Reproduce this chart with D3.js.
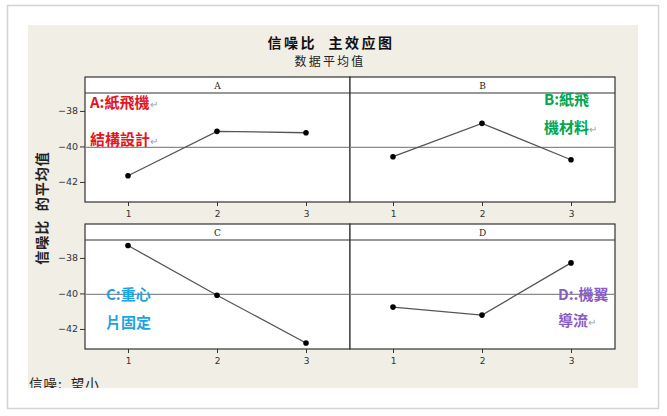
<!DOCTYPE html>
<html>
<head>
<meta charset="utf-8">
<script src="https://cdn.jsdelivr.net/npm/d3@7/dist/d3.min.js"></script>
<style>
    body { margin: 0; background: #ffffff; }
    svg { display: block; }
</style>
</head>
<body>
<div id="chart"></div>
<script>
/*
    信噪比 主效应图 (Minitab 风格) 重绘
 */

var factor_names = ["A", "B", "C", "D"];
var levels = [1, 2, 3];
var means_A = [-41.65, -39.15, -39.23];
var means_B = [-40.58, -38.70, -40.75];
var means_C = [-37.30, -40.10, -42.79];
var means_D = [-40.77, -41.22, -38.28];
var grand_mean = -40.05;
var y_ticks = [-42, -40, -38];

var note_A = ["A:紙飛機", "結構設計"];
var note_B = ["B:紙飛", "機材料"];
var note_C = ["C:重心", "片固定"];
var note_D = ["D:.機翼", "導流"];

var svg_size = {
    'width': 667,
    'height': 416
};

var chart_option = {
    'panel': {
        'left': 85,
        'top': 77,
        'width': 265,
        'strip': 16,
        'plot': 109,
        'row_gap': 147
    },
    'font': '"Noto Sans CJK SC", "Noto Sans", sans-serif'
};

var panels = [
    {name: factor_names[0], means: means_A, col: 0, row: 0, note: note_A, color: '#e3151d', ret: [true, true], nx: 5, ny: [13, 50]},
    {name: factor_names[1], means: means_B, col: 1, row: 0, note: note_B, color: '#00a651', ret: [false, true], nx: 194, ny: [10, 38]},
    {name: factor_names[2], means: means_C, col: 0, row: 1, note: note_C, color: '#1ea3e2', ret: [false, false], nx: 21, ny: [58, 86]},
    {name: factor_names[3], means: means_D, col: 1, row: 1, note: note_D, color: '#8a5cc6', ret: [false, true], nx: 208, ny: [58, 84]}
];

var svg = d3.select("#chart")
    .append("svg")
    .attr('width', svg_size.width)
    .attr('height', svg_size.height);

// frame
svg.append('rect')
    .attr('x', 7.5).attr('y', 5.5)
    .attr('width', 651).attr('height', 403)
    .style('fill', '#ffffff')
    .style('stroke', '#d4d4d4')
    .style('stroke-width', 1.5);

svg.append('rect')
    .attr('x', 28).attr('y', 25)
    .attr('width', 610).attr('height', 363)
    .style('fill', '#f1eee6');

// title
svg.append('text')
    .attr('x', 331).attr('y', 48)
    .attr('text-anchor', 'middle')
    .style('font-family', chart_option.font)
    .style('font-size', '14px')
    .style('font-weight', 'bold')
    .style('letter-spacing', '2.5px')
    .style('fill', '#111')
    .text("信噪比\u00a0\u00a0主效应图");

svg.append('text')
    .attr('x', 330).attr('y', 66)
    .attr('text-anchor', 'middle')
    .style('font-family', chart_option.font)
    .style('font-size', '12px')
    .style('letter-spacing', '2.2px')
    .style('fill', '#222')
    .text("数据平均值");

// y label
svg.append('text')
    .attr('transform', 'translate(47,208) rotate(-90)')
    .attr('text-anchor', 'middle')
    .style('font-family', chart_option.font)
    .style('font-size', '14px')
    .style('font-weight', 'bold')
    .style('letter-spacing', '1px')
    .style('fill', '#222')
    .text("信噪比\u00a0\u00a0的平均值");

// footnote
svg.append('clipPath').attr('id', 'bg-clip')
    .append('rect').attr('x', 28).attr('y', 25).attr('width', 610).attr('height', 363);

svg.append('text')
    .attr('x', 29).attr('y', 389)
    .attr('clip-path', 'url(#bg-clip)')
    .style('font-family', chart_option.font)
    .style('font-size', '13.5px')
    .style('letter-spacing', '1px')
    .style('fill', '#222')
    .text("信噪:\u00a0\u00a0望小");

var x_scale = d3.scalePoint()
    .domain(levels)
    .range([43, 221]);

var y_scale = d3.scaleLinear()
    .domain([-43.13, -36.99])
    .range([chart_option.panel.plot, 0]);

var line = d3.line()
    .x(function(d, i){ return x_scale(levels[i]); })
    .y(function(d){ return y_scale(d); });

var panel_enter = svg.selectAll('.panel')
    .data(panels)
    .enter()
    .append('g')
    .classed('panel', true)
    .attr('transform', function(d){
        var x = chart_option.panel.left + d.col * chart_option.panel.width;
        var y = chart_option.panel.top + d.row * chart_option.panel.row_gap;
        return 'translate(' + x + ',' + y + ')';
    });

// strip
panel_enter.append('rect')
    .attr('x', 0).attr('y', 0)
    .attr('width', chart_option.panel.width)
    .attr('height', chart_option.panel.strip + chart_option.panel.plot)
    .style('fill', '#ffffff')
    .style('stroke', '#333')
    .style('stroke-width', 1.2);

panel_enter.append('line')
    .attr('x1', 0).attr('x2', chart_option.panel.width)
    .attr('y1', chart_option.panel.strip).attr('y2', chart_option.panel.strip)
    .style('stroke', '#333')
    .style('stroke-width', 1.2);

panel_enter.append('text')
    .attr('x', chart_option.panel.width / 2)
    .attr('y', chart_option.panel.strip / 2 + 1)
    .attr('text-anchor', 'middle')
    .attr('dominant-baseline', 'central')
    .style('font-family', '"DejaVu Serif", serif')
    .style('font-size', '9px')
    .style('fill', '#222')
    .text(function(d){ return d.name; });

var plot_group = panel_enter.append('g')
    .attr('transform', 'translate(0,' + chart_option.panel.strip + ')');

// x axis
plot_group.each(function(d){
    var g = d3.select(this);
    var x_axis = d3.axisBottom(x_scale).tickSize(4).tickPadding(5);
    var ax = g.append('g')
        .attr('transform', 'translate(0,' + chart_option.panel.plot + ')')
        .call(x_axis);
    ax.select('.domain').remove();
    ax.selectAll('line').style('stroke', '#333');
    ax.selectAll('text')
        .style('font-family', '"DejaVu Sans", sans-serif')
        .style('font-size', '9px')
        .style('fill', '#333');

    if (d.col == 0) {
        var y_axis = d3.axisLeft(y_scale).tickValues(y_ticks).tickSize(5).tickPadding(2)
            .tickFormat(function(v){ return '\u2212' + Math.abs(v); });
        var ay = g.append('g').call(y_axis);
        ay.select('.domain').remove();
        ay.selectAll('line').style('stroke', '#333');
        ay.selectAll('text')
            .style('font-family', '"DejaVu Sans", sans-serif')
            .style('font-size', '9.5px')
            .style('fill', '#333');
    }
});

// reference line
plot_group.append('line')
    .attr('x1', 0).attr('x2', chart_option.panel.width)
    .attr('y1', y_scale(grand_mean)).attr('y2', y_scale(grand_mean))
    .style('stroke', '#8a8a8a')
    .style('stroke-width', 1.3);

// mean line
plot_group.append('path')
    .attr('d', function(d){ return line(d.means); })
    .style('fill', 'none')
    .style('stroke', '#555')
    .style('stroke-width', 1.3);

plot_group.selectAll('.pt')
    .data(function(d){ return d.means; })
    .enter()
    .append('circle')
    .attr('cx', function(d, i){ return x_scale(levels[i]); })
    .attr('cy', function(d){ return y_scale(d); })
    .attr('r', 2.8)
    .style('fill', '#000');

// notes
panel_enter.each(function(d){
    var g = d3.select(this);
    d.note.forEach(function(s, i){
        var t = g.append('text')
            .attr('x', d.nx)
            .attr('y', chart_option.panel.strip + d.ny[i] + 2)
            .style('font-family', '"Noto Sans CJK TC", "Noto Sans CJK SC", sans-serif')
            .style('font-size', '15px')
            .style('font-weight', 'bold')
            .style('fill', d.color);
        t.append('tspan').text(s);
        if (d.ret[i]) {
            t.append('tspan')
                .style('font-size', '10px')
                .style('font-weight', 'normal')
                .style('fill', '#a0a0a0')
                .text('\u21b5');
        }
    });
});
</script>
</body>
</html>
